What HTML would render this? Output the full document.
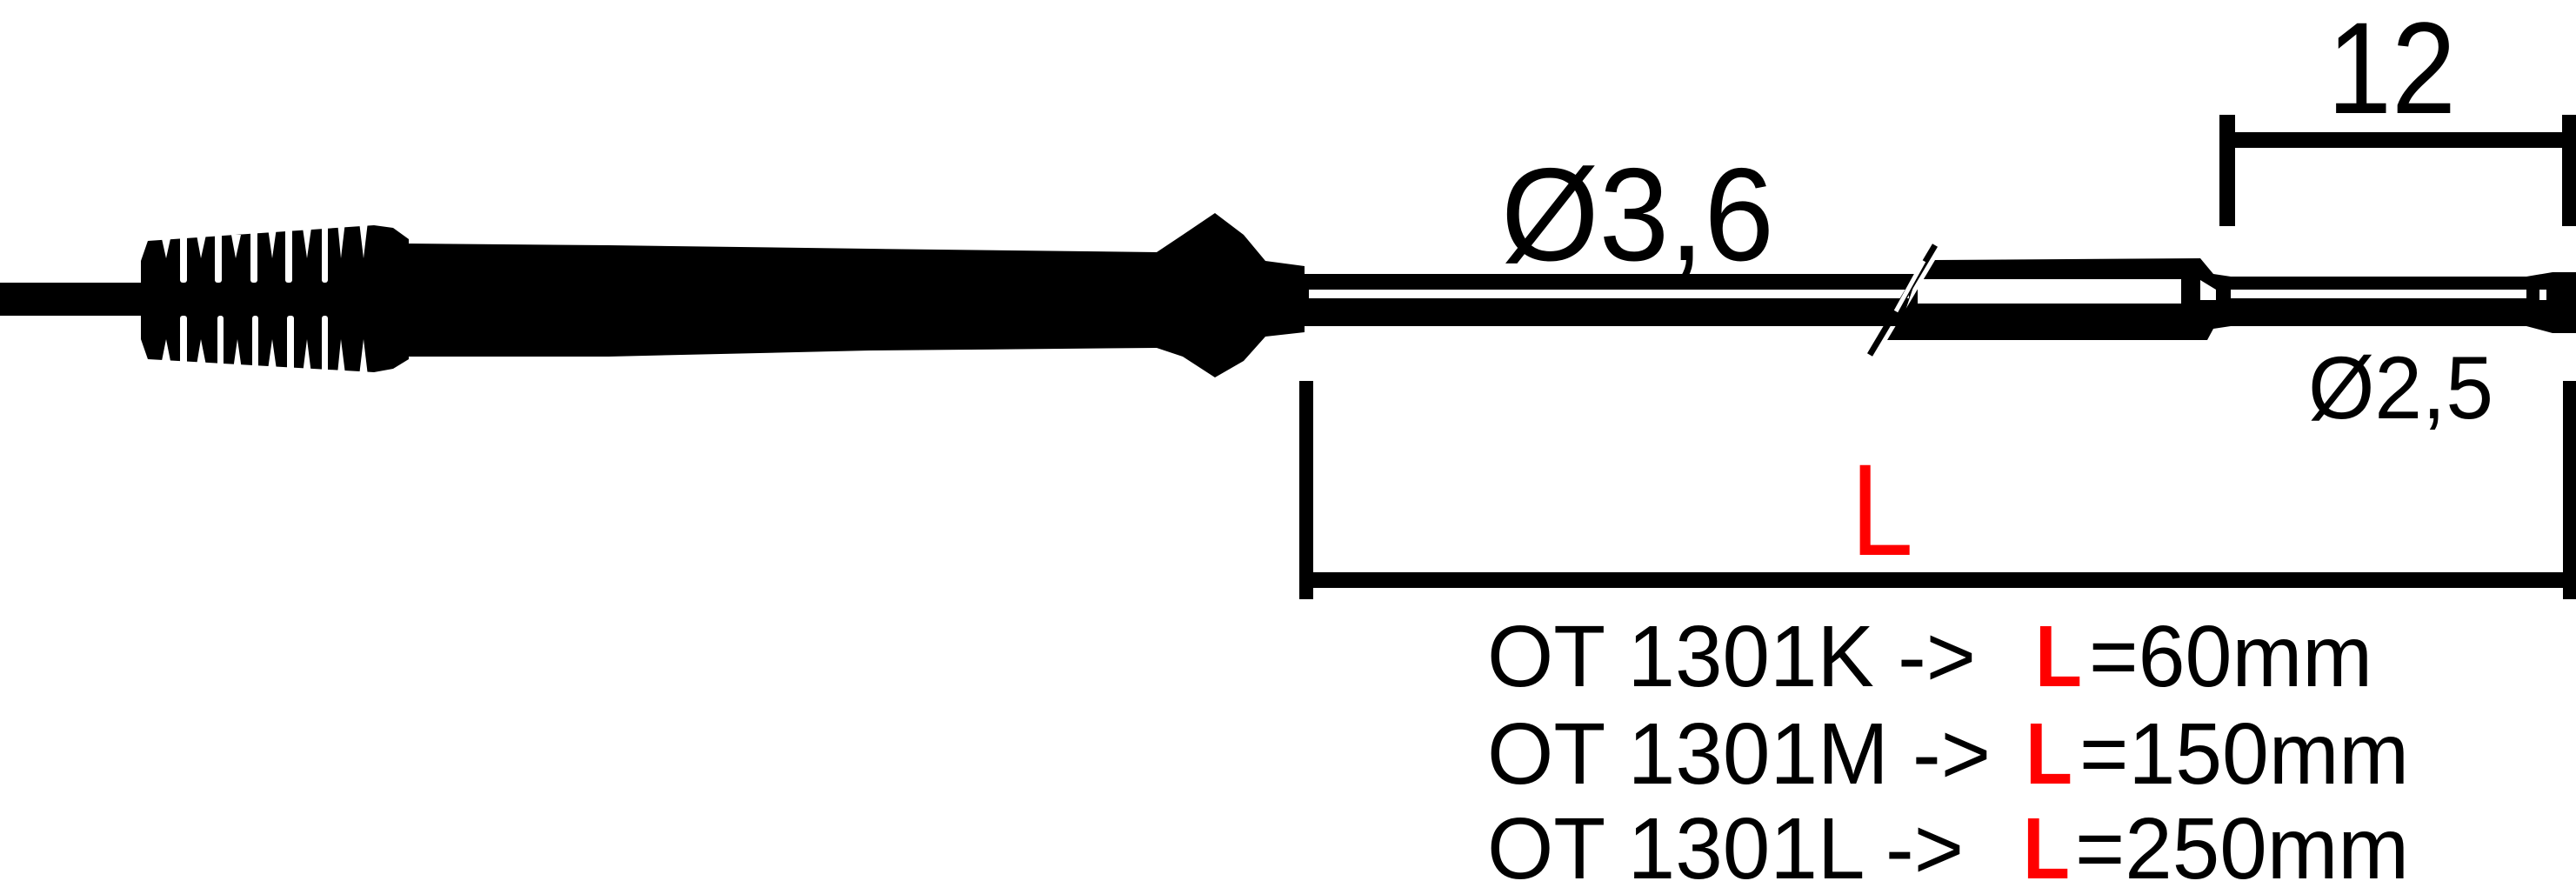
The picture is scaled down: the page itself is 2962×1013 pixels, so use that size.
<!DOCTYPE html>
<html><head><meta charset="utf-8"><style>
html,body{margin:0;padding:0;background:#fff;}
svg{display:block;}
text{font-family:"Liberation Sans",sans-serif;}
</style></head><body>
<svg width="2962" height="1013" viewBox="0 0 2962 1013" xmlns="http://www.w3.org/2000/svg">
<!-- cable -->
<rect x="0" y="325" width="170" height="38" fill="#000"/>
<!-- fin block -->
<polygon points="162,300 170,277 430,259 452,262 470,275 470,413 452,424 430,428 170,413 162,390" fill="#000"/>
<!-- top deep slits -->
<g fill="#fff">
<rect x="207" y="250" width="8" height="75" rx="3"/>
<rect x="247" y="250" width="8" height="75" rx="3"/>
<rect x="288" y="250" width="8" height="75" rx="3"/>
<rect x="328" y="250" width="8" height="75" rx="3"/>
<rect x="370" y="250" width="7" height="75" rx="3"/>
<rect x="207" y="363" width="8" height="70" rx="3"/>
<rect x="250" y="363" width="7" height="70" rx="3"/>
<rect x="290" y="363" width="7" height="70" rx="3"/>
<rect x="330" y="363" width="8" height="70" rx="3"/>
<rect x="370" y="363" width="7" height="70" rx="3"/>
<!-- shallow notches top -->
<polygon points="185,270 197,270 191,297"/>
<polygon points="226,270 237,270 231,297"/>
<polygon points="266,270 277,270 271,297"/>
<polygon points="308,262 318,262 313,297"/>
<polygon points="348,262 358,262 353,297"/>
<polygon points="388,255 397,255 392,297"/>
<polygon points="413,255 423,255 418,297"/>
<!-- shallow notches bottom -->
<polygon points="185,420 197,420 191,390"/>
<polygon points="226,420 237,420 231,390"/>
<polygon points="268,425 278,425 273,390"/>
<polygon points="308,425 318,425 313,390"/>
<polygon points="348,430 358,430 353,390"/>
<polygon points="388,430 397,430 392,390"/>
<polygon points="413,432 423,432 418,390"/>
</g>
<!-- handle body -->
<polygon points="468,280 700,282 1000,286 1330,290 1360,270 1397,245 1430,270 1455,300 1500,306 1500,382 1455,387 1430,415 1397,434 1360,410 1330,400 1000,403 700,410 468,410" fill="#000"/>
<!-- left tube -->
<polygon points="1495,315 2205,315 2185,375 1495,375" fill="#000"/>
<rect x="1505" y="333" width="690" height="10" fill="#fff"/>
<!-- right thick section -->
<polygon points="2225,299 2530,297 2545,315 2565,318 2565,375 2545,378 2538,391 2170,391" fill="#000"/>
<rect x="2205" y="321" width="303" height="28" fill="#fff"/>
<polygon points="2530,322 2548,333 2548,345 2530,345" fill="#fff"/>
<!-- slash -->
<line x1="2225" y1="282" x2="2150" y2="408" stroke="#000" stroke-width="7"/>
<line x1="2212" y1="300" x2="2180" y2="358" stroke="#fff" stroke-width="5"/>
<!-- tip -->
<rect x="2560" y="318" width="360" height="57" fill="#000"/>
<rect x="2565" y="333" width="345" height="10" fill="#fff"/>
<polygon points="2905,318 2935,313 2962,313 2962,383 2935,383 2905,375" fill="#000"/>
<rect x="2920" y="333" width="8" height="12" fill="#fff"/>
<!-- 12 dimension -->
<rect x="2552" y="132" width="18" height="128" fill="#000"/>
<rect x="2946" y="132" width="16" height="128" fill="#000"/>
<rect x="2552" y="152" width="410" height="18" fill="#000"/>
<!-- L dimension -->
<rect x="1494" y="438" width="16" height="251" fill="#000"/>
<rect x="2947" y="438" width="15" height="251" fill="#000"/>
<rect x="1494" y="658" width="1468" height="18" fill="#000"/>
<!-- labels -->
<text x="1726" y="299" font-size="152" textLength="314" lengthAdjust="spacingAndGlyphs">Ø3,6</text>
<text x="2676" y="130" font-size="150" textLength="148" lengthAdjust="spacingAndGlyphs">12</text>
<text x="2654" y="481" font-size="102" textLength="213" lengthAdjust="spacingAndGlyphs">Ø2,5</text>
<text x="2128" y="638" font-size="150" fill="#f00" textLength="72" lengthAdjust="spacingAndGlyphs">L</text>
<!-- list -->
<g font-size="100">
<text x="1710" y="789" textLength="562" lengthAdjust="spacingAndGlyphs">OT 1301K -&gt;</text>
<text x="2340" y="789" fill="#f00" font-weight="bold" textLength="54" lengthAdjust="spacingAndGlyphs">L</text>
<text x="2402" y="789" textLength="326" lengthAdjust="spacingAndGlyphs">=60mm</text>
<text x="1710" y="901" textLength="579" lengthAdjust="spacingAndGlyphs">OT 1301M -&gt;</text>
<text x="2329" y="901" fill="#f00" font-weight="bold" textLength="54" lengthAdjust="spacingAndGlyphs">L</text>
<text x="2391" y="901" textLength="379" lengthAdjust="spacingAndGlyphs">=150mm</text>
<text x="1710" y="1010" textLength="548" lengthAdjust="spacingAndGlyphs">OT 1301L -&gt;</text>
<text x="2326" y="1010" fill="#f00" font-weight="bold" textLength="54" lengthAdjust="spacingAndGlyphs">L</text>
<text x="2386" y="1010" textLength="384" lengthAdjust="spacingAndGlyphs">=250mm</text>
</g>
</svg>
</body></html>
